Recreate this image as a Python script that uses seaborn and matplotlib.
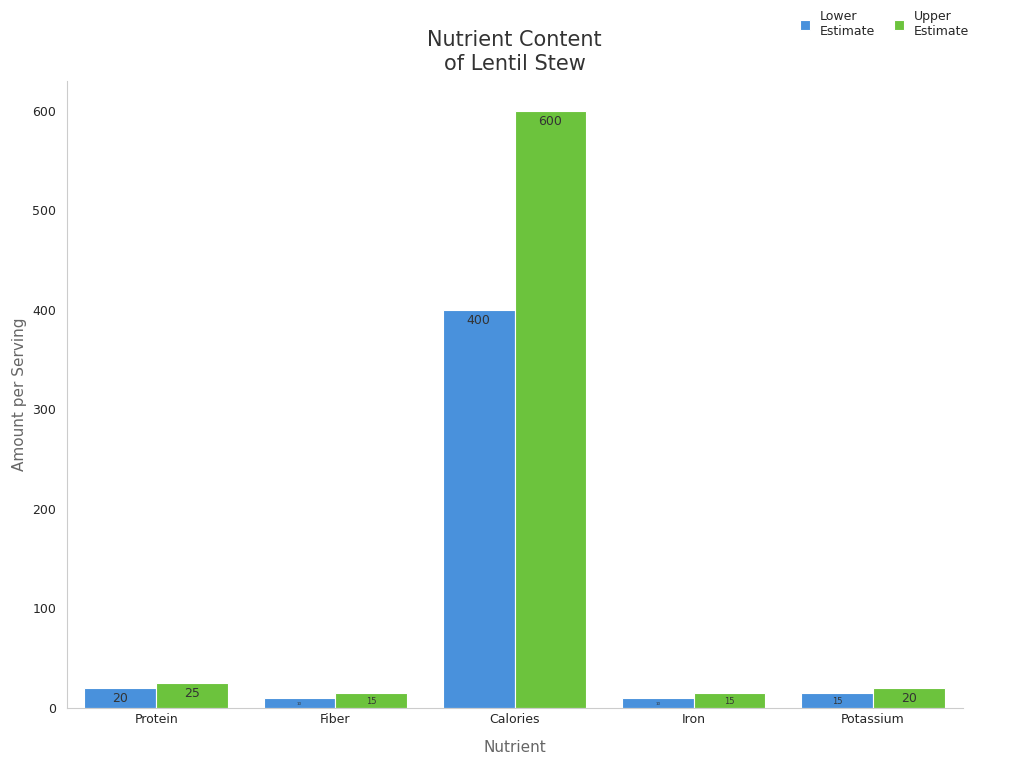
import pandas as pd
import matplotlib
matplotlib.use('Agg')
import matplotlib.pyplot as plt
import seaborn as sns

nutrients = ['Protein', 'Fiber', 'Calories', 'Iron', 'Potassium']
lower = [20, 10, 400, 10, 15]
upper = [25, 15, 600, 15, 20]
series = ['Lower\nEstimate', 'Upper\nEstimate']
colors = ['#3090F5', '#66DA26']

df = pd.DataFrame({
    'Nutrient': nutrients * 2,
    'Amount': lower + upper,
    'Series': [series[0]] * 5 + [series[1]] * 5,
})

sns.set_style('white')
fig, ax = plt.subplots(figsize=(10.24, 7.68), dpi=100)
sns.barplot(data=df, x='Nutrient', y='Amount', hue='Series', palette=colors,
            width=0.8, edgecolor='white', linewidth=0.8, ax=ax)

# label font shrinks for short bars
def label_size(v):
    if v <= 10:
        return 3
    if v <= 15:
        return 6
    return 9

for cont in ax.containers:
    for bar in cont:
        v = bar.get_height()
        ax.annotate(f'{v:.0f}', (bar.get_x() + bar.get_width() / 2, v),
                    xytext=(0, -3), textcoords='offset points',
                    ha='center', va='top', fontsize=label_size(v), color='#333333')

ax.set_title('Nutrient Content\nof Lentil Stew', fontsize=15, color='#333333', pad=8)
ax.set_xlabel('Nutrient', fontsize=11, color='#666666', labelpad=10)
ax.set_ylabel('Amount per Serving', fontsize=11, color='#666666')
ax.set_ylim(0, 630)
ax.set_yticks([0, 100, 200, 300, 400, 500, 600])
ax.tick_params(axis='both', labelsize=9, length=4, color='#cccccc')
ax.tick_params(axis='x', length=0)
for s in ['top', 'right']:
    ax.spines[s].set_visible(False)
for s in ['left', 'bottom']:
    ax.spines[s].set_color('#cccccc')

ax.legend(loc='upper right', bbox_to_anchor=(1.02, 1.13), ncol=2, frameon=False,
          fontsize=9, handlelength=0.8, handleheight=0.8, columnspacing=1.5)

plt.subplots_adjust(left=0.065, right=0.94, top=0.895, bottom=0.078)
plt.savefig('out.png', dpi=100)
